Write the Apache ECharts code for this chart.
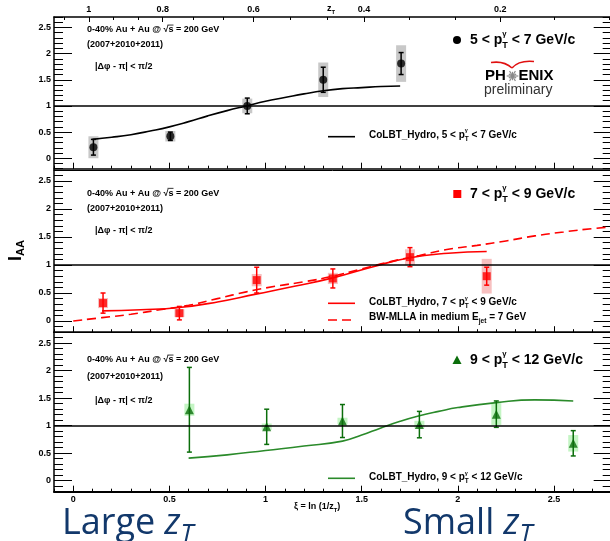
<!DOCTYPE html>
<html>
<head>
<meta charset="utf-8">
<script src="https://cdn.jsdelivr.net/npm/echarts@6/dist/echarts.min.js"></script>
<style>
html, body { margin: 0; padding: 0; background: #fff; }
#chart { width: 610px; height: 541px; }
</style>
</head>
<body>
<div id="chart"></div>
<script>
// ---- I_AA vs xi = ln(1/zT), 0-40% Au+Au, three photon pT bins ----
const xi5to7    = [0.105, 0.505, 0.905, 1.30, 1.705];
const iaa5to7   = [0.21, 0.42, 1.00, 1.50, 1.81];
const stat5to7  = [0.15, 0.08, 0.15, 0.24, 0.21];
const sys5to7   = [0.21, 0.10, 0.14, 0.33, 0.35];

const xi7to9    = [0.155, 0.552, 0.954, 1.35, 1.751, 2.15];
const iaa7to9   = [0.32, 0.14, 0.73, 0.76, 1.14, 0.80];
const stat7to9  = [0.18, 0.12, 0.23, 0.17, 0.17, 0.16];
const sys7to9   = [0.09, 0.07, 0.11, 0.10, 0.14, 0.31];

const xi9to12   = [0.604, 1.006, 1.40, 1.80, 2.20, 2.60];
const iaa9to12  = [1.29, 0.98, 1.085, 1.02, 1.21, 0.68];
const stat9to12 = [0.77, 0.32, 0.30, 0.24, 0.24, 0.23];
const sys9to12  = [0.11, 0.06, 0.06, 0.07, 0.20, 0.15];

// model curves
const colbt5to7Xi  = [0.1, 0.2, 0.3, 0.4, 0.5, 0.6, 0.7, 0.8, 0.9, 1.0, 1.1, 1.2, 1.3, 1.4, 1.5, 1.6, 1.7];
const colbt5to7    = [0.36, 0.40, 0.45, 0.52, 0.60, 0.70, 0.81, 0.91, 1.00, 1.09, 1.16, 1.23, 1.29, 1.33, 1.35, 1.37, 1.38];
const colbt7to9Xi  = [0.15, 0.35, 0.55, 0.75, 0.95, 1.15, 1.35, 1.55, 1.75, 1.95, 2.15];
const colbt7to9    = [0.18, 0.20, 0.24, 0.34, 0.48, 0.62, 0.77, 0.96, 1.13, 1.21, 1.24];
const bwmllaXi     = [0.0, 0.15, 0.3, 0.45, 0.6, 0.75, 0.9, 1.05, 1.2, 1.35, 1.5, 1.65, 1.8, 1.95, 2.1, 2.25, 2.4, 2.55, 2.7, 2.8];
const bwmlla       = [0.0, 0.06, 0.12, 0.20, 0.28, 0.40, 0.52, 0.62, 0.70, 0.80, 0.93, 1.06, 1.17, 1.28, 1.35, 1.43, 1.52, 1.59, 1.65, 1.68];
const colbt9to12Xi = [0.6, 0.8, 1.0, 1.2, 1.4, 1.5, 1.6, 1.7, 1.8, 1.9, 2.0, 2.2, 2.4, 2.6];
const colbt9to12   = [0.41, 0.47, 0.55, 0.63, 0.72, 0.83, 0.96, 1.08, 1.18, 1.26, 1.33, 1.42, 1.47, 1.45];

// tick labels
const xiTickValues  = [0, 0.5, 1, 1.5, 2, 2.5];
const xiTickLabels  = ['0', '0.5', '1', '1.5', '2', '2.5'];
const iaaTickValues = [0, 0.5, 1, 1.5, 2, 2.5];
const iaaTickLabels = ['0', '0.5', '1', '1.5', '2', '2.5'];
const zTTickLabels  = ['1', '0.8', '0.6', '0.4', '0.2'];
const zTTickXi      = [0.081, 0.465, 0.938, 1.512, 2.220];

// ---- layout / style ----
const FONT = '"Liberation Sans", Arial, Helvetica, sans-serif';
const NAVY = '#12386b';
const X_MIN = -0.1, X_MAX = 2.8, Y_MIN = -0.2, Y_MAX = 2.7;
const PLOT_LEFT = 54, PLOT_WIDTH = 557.7;
const panels = [
  { top: 17,    height: 151.7 },
  { top: 169.8, height: 162.4 },
  { top: 332.2, height: 159.5 }
];

const tenths = (a, b) => { const r = []; for (let k = a; k <= b; k++) r.push(k / 10); return r; };
const xMinor = tenths(-1, 28);
const yMinor = tenths(-2, 27);

// minor ticks of the zT scale: two between each labelled tick, continued at both ends
const zTMinor = [];
for (let i = 0; i < zTTickXi.length - 1; i++) {
  const a = zTTickXi[i], b = zTTickXi[i + 1];
  zTMinor.push(a + (b - a) / 3, a + 2 * (b - a) / 3);
}
zTMinor.push(zTTickXi[0] - (zTTickXi[1] - zTTickXi[0]) / 3);
{
  const n = zTTickXi.length, step = (zTTickXi[n - 1] - zTTickXi[n - 2]) / 3;
  zTMinor.push(zTTickXi[n - 1] + step * 1.2, zTTickXi[n - 1] + step * 2.4);
}

const lab = { fontFamily: FONT, fontWeight: 'bold', fontSize: 9, color: '#000' };
const black = (w) => ({ color: '#000', width: w });
const pick = (vals, labels) => (v) => {
  const i = vals.findIndex(t => Math.abs(t - v) < 1e-6);
  return i >= 0 ? labels[i] : '';
};

const xAxes = [], yAxes = [], axisIdx = [];
panels.forEach((p, gi) => {
  const last = gi === panels.length - 1;
  const bx = xAxes.length;
  xAxes.push({
    type: 'value', gridIndex: gi, position: 'bottom', min: X_MIN, max: X_MAX,
    axisLine: { show: true, onZero: false, lineStyle: black(last ? 2 : 1.5) },
    axisTick: { show: true, inside: true, length: 6, customValues: xiTickValues, lineStyle: black(1) },
    axisLabel: { show: last, customValues: xiTickValues, formatter: pick(xiTickValues, xiTickLabels), margin: 3, ...lab },
    splitLine: { show: false }
  });
  xAxes.push({
    type: 'value', gridIndex: gi, position: 'bottom', min: X_MIN, max: X_MAX,
    axisLine: { show: false, onZero: false },
    axisTick: { show: true, inside: true, length: 3, customValues: xMinor, lineStyle: black(1) },
    axisLabel: { show: false }, splitLine: { show: false }
  });
  if (gi === 0) {
    xAxes.push({
      type: 'value', gridIndex: gi, position: 'top', min: X_MIN, max: X_MAX,
      axisLine: { show: true, onZero: false, lineStyle: black(1.5) },
      axisTick: { show: true, inside: true, length: 5, customValues: zTTickXi, lineStyle: black(1) },
      axisLabel: { show: true, customValues: zTTickXi, formatter: pick(zTTickXi, zTTickLabels), margin: 3, ...lab },
      splitLine: { show: false }
    });
    xAxes.push({
      type: 'value', gridIndex: gi, position: 'top', min: X_MIN, max: X_MAX,
      axisLine: { show: false, onZero: false },
      axisTick: { show: true, inside: true, length: 3, customValues: zTMinor, lineStyle: black(1) },
      axisLabel: { show: false }, splitLine: { show: false }
    });
  } else {
    xAxes.push({
      type: 'value', gridIndex: gi, position: 'top', min: X_MIN, max: X_MAX,
      axisLine: { show: true, onZero: false, lineStyle: black(1) },
      axisTick: { show: false }, axisLabel: { show: false }, splitLine: { show: false }
    });
  }
  const ly = yAxes.length;
  ['left', 'right'].forEach(side => {
    yAxes.push({
      type: 'value', gridIndex: gi, position: side, min: Y_MIN, max: Y_MAX,
      axisLine: { show: true, onZero: false, lineStyle: black(1.5) },
      axisTick: { show: true, inside: true, length: 18, customValues: iaaTickValues, lineStyle: black(1) },
      axisLabel: { show: side === 'left', customValues: iaaTickValues, formatter: pick(iaaTickValues, iaaTickLabels), margin: 3, ...lab },
      splitLine: { show: false }
    });
    yAxes.push({
      type: 'value', gridIndex: gi, position: side, min: Y_MIN, max: Y_MAX,
      axisLine: { show: false, onZero: false },
      axisTick: { show: true, inside: true, length: 9, customValues: yMinor, lineStyle: black(1) },
      axisLabel: { show: false }, splitLine: { show: false }
    });
  });
  axisIdx.push({ x: bx, y: ly });
});

// ---- series for one panel: systematic boxes, model curves, stat bars, markers, unity line ----
function panelSeries(gi, d) {
  const base = { xAxisIndex: axisIdx[gi].x, yAxisIndex: axisIdx[gi].y };
  const pts = d.xi.map((v, i) => [v, d.iaa[i], d.stat[i], d.sys[i]]);
  const out = [];
  out.push({
    ...base, type: 'custom', z: 1, silent: true,
    dimensions: ['x', 'y', 'stat', 'sys'], encode: { x: 0, y: 1 }, data: pts,
    renderItem: (params, api) => {
      const x = api.value(0), y = api.value(1), s = api.value(3);
      const hi = api.coord([x, y + s]), lo = api.coord([x, y - s]);
      return { type: 'rect', shape: { x: hi[0] - 5, y: hi[1], width: 10, height: lo[1] - hi[1] },
               style: { fill: d.boxColor } };
    }
  });
  d.curves.forEach(c => out.push({
    ...base, type: 'line', z: 2, silent: true, showSymbol: false, smooth: 0.5,
    data: c.xi.map((v, i) => [v, c.val[i]]),
    lineStyle: { color: c.color, width: 1.6, type: c.dashed ? [9, 5] : 'solid' }
  }));
  out.push({
    ...base, type: 'custom', z: 3, silent: true,
    dimensions: ['x', 'y', 'stat', 'sys'], encode: { x: 0, y: 1 }, data: pts,
    renderItem: (params, api) => {
      const x = api.value(0), y = api.value(1), e = api.value(2);
      const hi = api.coord([x, y + e]), lo = api.coord([x, y - e]);
      const st = { stroke: d.color, lineWidth: 1.5 };
      const cap = 2.5;
      return { type: 'group', children: [
        { type: 'line', shape: { x1: hi[0], y1: hi[1], x2: lo[0], y2: lo[1] }, style: st },
        { type: 'line', shape: { x1: hi[0] - cap, y1: hi[1], x2: hi[0] + cap, y2: hi[1] }, style: st },
        { type: 'line', shape: { x1: lo[0] - cap, y1: lo[1], x2: lo[0] + cap, y2: lo[1] }, style: st }
      ] };
    }
  });
  out.push({
    ...base, type: 'scatter', z: 4, silent: true,
    data: pts.map(q => [q[0], q[1]]),
    symbol: d.symbol, symbolSize: d.symbolSize, itemStyle: { color: d.color },
    markLine: {
      silent: true, symbol: 'none', label: { show: false }, animation: false,
      lineStyle: { color: '#000', width: 1.5, type: 'solid' },
      data: [{ yAxis: 1 }]
    }
  });
  return out;
}

const RED = '#ff0000', GREEN = '#0b6e0b';
const series = [
  ...panelSeries(0, { xi: xi5to7, iaa: iaa5to7, stat: stat5to7, sys: sys5to7,
    color: '#000', boxColor: '#c8c8c8', symbol: 'circle', symbolSize: 8,
    curves: [{ xi: colbt5to7Xi, val: colbt5to7, color: '#000' }] }),
  ...panelSeries(1, { xi: xi7to9, iaa: iaa7to9, stat: stat7to9, sys: sys7to9,
    color: RED, boxColor: '#f7c0c0', symbol: 'rect', symbolSize: 8,
    curves: [{ xi: colbt7to9Xi, val: colbt7to9, color: RED },
             { xi: bwmllaXi, val: bwmlla, color: RED, dashed: true }] }),
  ...panelSeries(2, { xi: xi9to12, iaa: iaa9to12, stat: stat9to12, sys: sys9to12,
    color: GREEN, boxColor: '#c4f5c4', symbol: 'triangle', symbolSize: 9,
    curves: [{ xi: colbt9to12Xi, val: colbt9to12, color: '#2a8a2a' }] })
];

// ---- text helpers (sub/superscripts laid out with measured widths) ----
const mctx = document.createElement('canvas').getContext('2d');
function measure(t, size, weight, family, style) {
  mctx.font = `${style} ${weight} ${size}px ${family}`;
  return mctx.measureText(t).width;
}
function textRun(x, y, parts, o) {
  const size = o.size, weight = o.weight || 'bold', family = o.family || FONT;
  const color = o.color || '#000', fstyle = o.style || 'normal';
  const subDy = o.subDy != null ? o.subDy : 0.42, subScale = o.subScale || 0.65;
  const els = [];
  let cx = x;
  const put = (t, px, py, sz, st) => {
    st = st || fstyle;
    els.push({ type: 'text', x: px, y: py, silent: true, z: 100,
      style: { text: t, fill: color, fontSize: sz, fontFamily: family, fontWeight: weight,
               fontStyle: st, align: 'left', verticalAlign: 'middle' } });
    return measure(t, sz, weight, family, st);
  };
  parts.forEach(p => {
    if (typeof p === 'string') { cx += put(p, cx, y, size); return; }
    if (p.t) { cx += put(p.t, cx, y, size, p.style); return; }
    if (p.over) {
      const w = put(p.over, cx, y, size);
      els.push({ type: 'line', silent: true, z: 100,
        shape: { x1: cx - 1, y1: y - size * 0.55, x2: cx + w, y2: y - size * 0.55 },
        style: { stroke: color, lineWidth: 0.8 } });
      cx += w; return;
    }
    let w = 0;
    if (p.sub) w = Math.max(w, put(p.sub, cx, y + size * subDy, size * subScale, p.style));
    if (p.sup) w = Math.max(w, put(p.sup, cx, y - size * 0.45, size * 0.55, p.style));
    cx += w;
  });
  return els;
}

const g = [];

// run conditions in each panel
[[30, 45, 67], [193.3, 209, 231], [360, 376.7, 400.7]].forEach(ys => {
  g.push(...textRun(87, ys[0], ['0-40% Au + Au @ ', '√', { over: 's' }, ' = 200 GeV'], { size: 9 }));
  g.push(...textRun(87, ys[1], ['(2007+2010+2011)'], { size: 9 }));
  g.push(...textRun(95, ys[2], ['|Δφ - π| < π/2'], { size: 9 }));
});

// data legends
g.push({ type: 'circle', silent: true, z: 100, shape: { cx: 457, cy: 40, r: 4 }, style: { fill: '#000' } });
g.push(...textRun(470, 40, ['5 < p', { sub: 'T', sup: 'γ' }, ' < 7 GeV/c'], { size: 14 }));
g.push({ type: 'rect', silent: true, z: 100, shape: { x: 453.3, y: 190, width: 8, height: 8 }, style: { fill: RED } });
g.push(...textRun(470, 194, ['7 < p', { sub: 'T', sup: 'γ' }, ' < 9 GeV/c'], { size: 14 }));
g.push({ type: 'polygon', silent: true, z: 100, shape: { points: [[457, 355.5], [461.5, 364], [452.5, 364]] }, style: { fill: GREEN } });
g.push(...textRun(470, 360, ['9 < p', { sub: 'T', sup: 'γ' }, ' < 12 GeV/c'], { size: 14 }));

// model legends
const sample = (y, color, dashed) => ({ type: 'line', silent: true, z: 100,
  shape: { x1: 328, y1: y, x2: 355, y2: y },
  style: { stroke: color, lineWidth: 1.6, lineDash: dashed ? [9, 5] : null } });
g.push(sample(136.7, '#000'));
g.push(...textRun(369, 135, ['CoLBT_Hydro, 5 < p', { sub: 'T', sup: 'γ' }, ' < 7 GeV/c'], { size: 10 }));
g.push(sample(303.3, RED));
g.push(...textRun(369, 302.5, ['CoLBT_Hydro, 7 < p', { sub: 'T', sup: 'γ' }, ' < 9 GeV/c'], { size: 10 }));
g.push(sample(320, RED, true));
g.push(...textRun(369, 317, ['BW-MLLA in medium E', { sub: 'jet' }, ' = 7 GeV'], { size: 10 }));
g.push(sample(478.3, '#2a8a2a'));
g.push(...textRun(369, 477.5, ['CoLBT_Hydro, 9 < p', { sub: 'T', sup: 'γ' }, ' < 12 GeV/c'], { size: 10 }));

// PHENIX preliminary mark
g.push(...textRun(485, 76, ['PH'], { size: 15 }));
g.push(...textRun(518.5, 76, ['ENIX'], { size: 15 }));
(function star(cx, cy) {
  for (let k = 0; k < 12; k++) {
    const a = k * Math.PI / 6, r = (k % 2) ? 4.2 : 5.8;
    g.push({ type: 'line', silent: true, z: 100,
      shape: { x1: cx, y1: cy, x2: cx + r * Math.cos(a), y2: cy + r * Math.sin(a) },
      style: { stroke: '#8a8a8a', lineWidth: 1.2 } });
  }
})(512.5, 76);
g.push({ type: 'bezierCurve', silent: true, z: 100,
  shape: { x1: 491, y1: 62.5, cpx1: 504, cpy1: 60.5, x2: 512, y2: 68 },
  style: { stroke: '#e01010', lineWidth: 1.6, fill: 'none' } });
g.push({ type: 'bezierCurve', silent: true, z: 100,
  shape: { x1: 512, y1: 68, cpx1: 519, cpy1: 60, x2: 534, y2: 61.5 },
  style: { stroke: '#e01010', lineWidth: 1.6, fill: 'none' } });
g.push(...textRun(484, 90, ['preliminary'], { size: 14, weight: 'normal', color: '#333' }));

// axis titles
g.push(...textRun(327, 9, ['z', { sub: 'T' }], { size: 9 }));
g.push(...textRun(294, 507, ['ξ = ln (1/z', { sub: 'T' }, ')'], { size: 9 }));
g.push({ type: 'group', x: 16, y: 261, rotation: Math.PI / 2, silent: true,
  children: textRun(0, 0, ['I', { sub: 'AA' }], { size: 18, subScale: 0.62, subDy: 0.3 }) });

// large / small zT annotations
const bigText = { size: 36, weight: 'normal', family: '"Open Sans", "Noto Sans", sans-serif', color: NAVY, subScale: 0.72, subDy: 0.3 };
g.push(...textRun(62, 524, ['Large ', { t: 'z', style: 'italic' }, { sub: 'T', style: 'italic' }], bigText));
g.push(...textRun(403, 524, ['Small ', { t: 'z', style: 'italic' }, { sub: 'T', style: 'italic' }], bigText));

const chart = echarts.init(document.getElementById('chart'), null, { renderer: 'canvas', width: 610, height: 541 });
chart.setOption({
  animation: false,
  backgroundColor: '#fff',
  grid: panels.map(p => ({ left: PLOT_LEFT, top: p.top, width: PLOT_WIDTH, height: p.height,
                           containLabel: false, outerBoundsMode: 'none' })),
  xAxis: xAxes,
  yAxis: yAxes,
  series: series,
  graphic: { elements: g }
});
</script>
</body>
</html>
